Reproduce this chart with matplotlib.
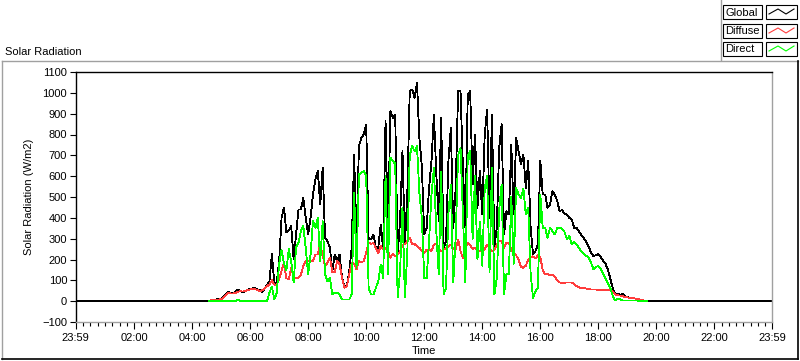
import matplotlib
matplotlib.use("Agg")
import matplotlib.pyplot as plt
from matplotlib.lines import Line2D
from matplotlib.patches import Rectangle
import numpy as np

nan = np.nan

# DATA  (5-minute samples starting 04:30, W/m2)
sample_start = "04:30"
sample_step_min = 5

global_rad = [
    0, 0, 6, 6, 8, 10,
    13, 22, 35, 43, 40, 37, 46, 55, 48, 44, 47, 56,
    58, 61, 63, 55, 52, 43, 60, 77, 95, 225, 90, 86,
    190, 400, 450, 330, 340, 360, 200, 320, 440, 440, 496, 400,
    320, 400, 512, 584, 624, 464, 640, 304, 288, 256, 144, 224,
    192, 224, 112, 70, 72, 144, 256, 700, 300, 744, 784, 800,
    848, 300, 296, 320, 256, 256, 368, 256, 864, 300, 912, 880,
    896, 224, 384, 720, 272, 512, 1008, 1016, 976, 1048, 780, 650,
    320, 352, 544, 672, 896, 608, 384, 880, 256, 288, 672, 832,
    352, 544, 1008, 1008, 640, 352, 992, 1008, 560, 800, 448, 624,
    416, 800, 920, 400, 896, 256, 352, 736, 850, 320, 432, 416,
    750, 416, 784, 720, 656, 704, 544, 672, 352, 224, 240, 272,
    672, 512, 512, 448, 464, 528, 512, 480, 432, 438, 419, 416,
    400, 392, 352, 352, 336, 315, 302, 285, 262, 232, 216, 221,
    227, 211, 194, 179, 149, 106, 61, 32, 37, 29, 34, 24,
    19, 16, 14, 13, 10, 8, 5, 3, 0, 0, 0, 0,
    0, 0,
]

diffuse_rad = [
    nan, 0, 5, 5, 7, 8,
    10, 16, 28, 40, 37, 37, 38, 45, 48, 46, 48, 54,
    56, 58, 57, 54, 48, 52, 62, 72, 80, 100, 80, 78,
    105, 145, 185, 110, 105, 160, 112, 112, 112, 128, 168, 192,
    192, 192, 192, 224, 224, 272, 224, 168, 184, 208, 140, 141,
    192, 176, 112, 64, 72, 128, 184, 180, 152, 192, 187, 192,
    232, 280, 275, 280, 256, 232, 264, 248, 256, 240, 208, 227,
    216, 224, 237, 269, 275, 288, 304, 275, 274, 264, 256, 240,
    232, 248, 248, 240, 272, 275, 248, 240, 248, 253, 264, 272,
    253, 248, 296, 240, 208, 253, 280, 270, 250, 256, 240, 240,
    240, 250, 272, 256, 240, 245, 270, 290, 290, 256, 280, 280,
    250, 230, 220, 200, 165, 160, 170, 200, 210, 215, 205, 220,
    210, 150, 128, 130, 125, 128, 118, 100, 90, 88, 88, 90,
    90, 90, 82, 72, 66, 64, 62, 61, 58, 56, 56, 56,
    55, 54, 54, 53, 52, 51, 46, 32, 28, 27, 24, 20,
    18, 16, 14, 13, 10, 8, 5, 3, 0, nan, nan, nan,
    nan, nan,
]

direct_rad = [
    nan, 0, 0, 0, 0, 0,
    0, 0, 0, 0, 0, 0, 0, 8, 0, 0, 0, 0,
    0, 0, 0, 0, 0, 0, 0, 0, 40, 70, 8, 40,
    180, 245, 180, 150, 250, 190, 90, 256, 280, 336, 360, 256,
    130, 224, 384, 352, 400, 190, 384, 130, 96, 112, 32, 40,
    40, 32, 8, 8, 8, 8, 32, 520, 160, 608, 616, 624,
    600, 64, 32, 32, 64, 96, 176, 112, 600, 128, 688, 672,
    660, 20, 140, 450, 20, 230, 700, 744, 720, 744, 520, 400,
    112, 110, 290, 512, 640, 330, 130, 620, 32, 64, 420, 560,
    90, 304, 700, 736, 420, 90, 700, 720, 300, 600, 200, 380,
    170, 540, 600, 140, 640, 32, 112, 440, 560, 32, 128, 130,
    500, 180, 544, 512, 496, 540, 416, 448, 128, 16, 48, 64,
    512, 352, 352, 304, 352, 336, 320, 352, 352, 349, 333, 296,
    312, 272, 285, 272, 254, 240, 227, 218, 208, 184, 152, 165,
    168, 155, 131, 109, 85, 61, 24, 3, 13, 8, 3, 3,
    3, 3, 3, 3, 3, 2, 1, 0, 0, nan, nan, nan,
    nan, nan,
]

series_names = ["Global", "Diffuse", "Direct"]
series_colors = ["#000000", "#ff3c3c", "#00ff00"]

x_tick_labels = ["23:59", "02:00", "04:00", "06:00", "08:00", "10:00", "12:00",
                 "14:00", "16:00", "18:00", "20:00", "22:00", "23:59"]
y_ticks = list(range(-100, 1101, 100))

W, H = 800, 361
FONT = "Liberation Sans"
plt.rcParams["font.family"] = [FONT, "DejaVu Sans"]
plt.rcParams["font.size"] = 8


def hours(hhmm):
    h, m = hhmm.split(":")
    return int(h) + int(m) / 60


def px(x, y):
    # pixel position (from top-left) -> figure fraction
    return x / W, 1 - y / H


def fig_line(fig, xs, ys, color, lw=1.0):
    fx = [x / W for x in xs]
    fy = [1 - y / H for y in ys]
    fig.add_artist(Line2D(fx, fy, transform=fig.transFigure, color=color, lw=lw))


def draw_legend(fig):
    fig_line(fig, [721, 721], [0, 60], "#a0a0a0")
    row_tops = [5, 24, 42]
    for name, color, top in zip(series_names, series_colors, row_tops):
        x0, y0 = px(723, top + 14)
        fig.add_artist(Rectangle((x0, y0), 39 / W, 14 / H, transform=fig.transFigure,
                                 facecolor="white", edgecolor="black", lw=0.8))
        fig.text(725 / W, 1 - (top + 7.5) / H, name, ha="left", va="center", fontsize=8)
        x0, y0 = px(766, top + 14)
        fig.add_artist(Rectangle((x0, y0), 31 / W, 14 / H, transform=fig.transFigure,
                                 facecolor="white", edgecolor="black", lw=0.8))
        fig_line(fig, [769, 778, 786, 794], [top + 9, top + 4, top + 9, top + 4], color, lw=0.8)


def main():
    fig = plt.figure(figsize=(W / 100, H / 100), dpi=100, facecolor="white")

    # outer frame
    fig_line(fig, [2, 798], [61, 61], "#a0a0a0")
    fig_line(fig, [2, 2], [61, 359], "#a0a0a0")
    fig_line(fig, [2, 798], [359, 359], "#000000", lw=1.2)
    fig_line(fig, [798, 798], [61, 359], "#000000", lw=1.2)
    fig.text(5 / W, 1 - 52 / H, "Solar Radiation", ha="left", va="center", fontsize=8)

    draw_legend(fig)

    left, right, top, bottom = 75.5, 772, 72, 322
    ax = fig.add_axes([left / W, 1 - bottom / H, (right - left) / W, (bottom - top) / H])

    t0 = hours(sample_start)
    t = t0 + np.arange(len(global_rad)) * sample_step_min / 60
    x_min, x_max = -1 / 60, 24 - 1 / 60

    # Global is logged all day; zero outside the sampled window
    t_global = np.concatenate([[x_min], t, [x_max]])
    g_global = np.concatenate([[0], global_rad, [0]])

    ax.plot(t_global, g_global, color=series_colors[0], lw=0.6, antialiased=False)
    ax.plot(t, diffuse_rad, color=series_colors[1], lw=0.6, antialiased=False)
    ax.plot(t, direct_rad, color=series_colors[2], lw=0.6, antialiased=False)

    ax.set_xlim(x_min, x_max)
    ax.set_ylim(-100, 1100)

    major = [x_min] + list(range(2, 23, 2)) + [x_max]
    ax.set_xticks(major)
    ax.set_xticklabels(x_tick_labels)
    ax.set_xticks([q / 4 for q in range(1, 96) if q % 8 != 0], minor=True)
    ax.set_yticks(y_ticks)
    ax.tick_params(axis="x", which="major", length=5, width=0.8, pad=3, labelsize=8)
    ax.tick_params(axis="x", which="minor", length=3, width=0.8)
    ax.tick_params(axis="y", length=4, width=0.8, pad=2, labelsize=8)

    ax.spines["left"].set_color("black")
    ax.spines["top"].set_color("black")
    ax.spines["right"].set_color("#a0a0a0")
    ax.spines["bottom"].set_color("#a0a0a0")
    for s in ax.spines.values():
        s.set_linewidth(1.0)

    ax.set_xlabel("Time", fontsize=8, labelpad=2)
    ax.set_ylabel("Solar Radiation (W/m2)", fontsize=8, labelpad=6)

    fig.savefig("out.png", dpi=100, facecolor="white")
    plt.close(fig)


if __name__ == "__main__":
    main()
